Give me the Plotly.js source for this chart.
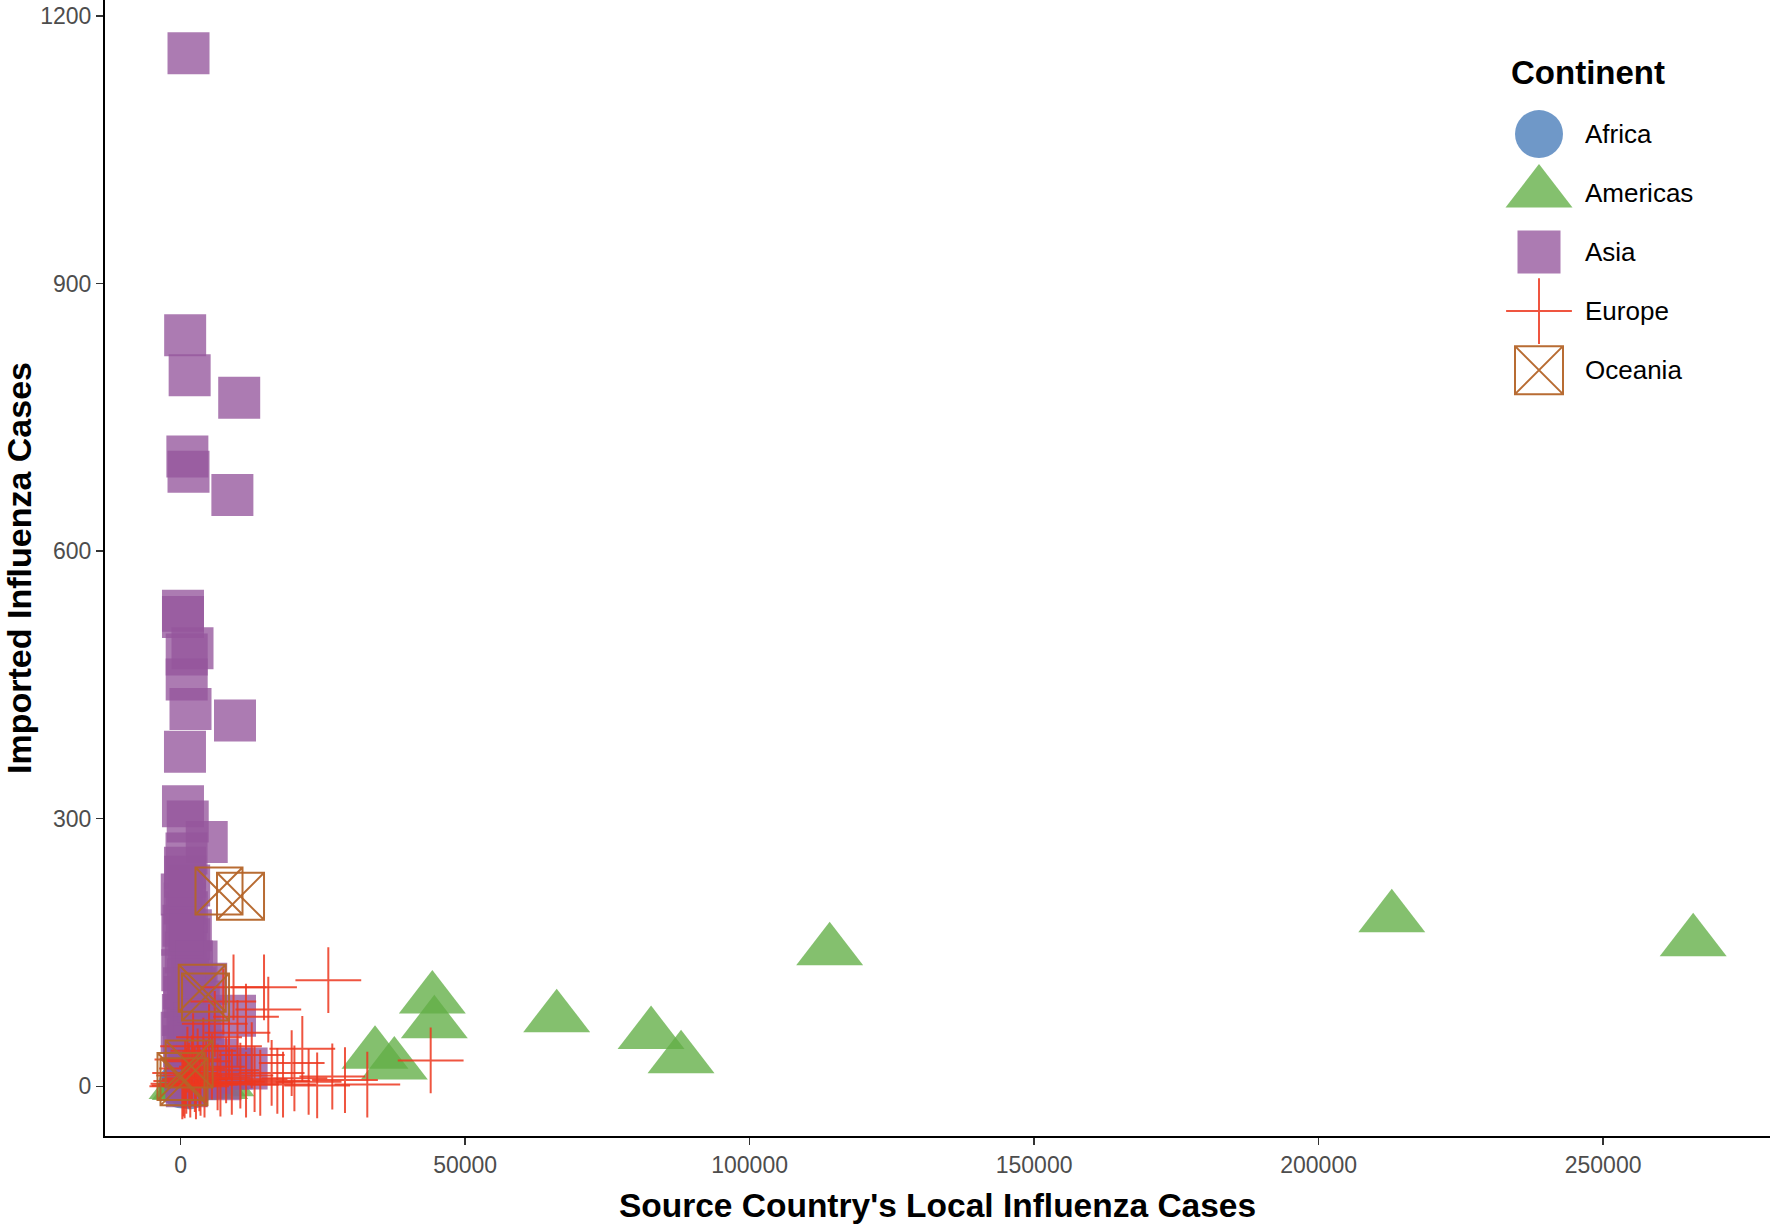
<!DOCTYPE html>
<html><head><meta charset="utf-8">
<script src="https://cdn.plot.ly/plotly-3.0.1.min.js"></script>
<style>html,body{margin:0;padding:0;background:#fff}#chart{width:1770px;height:1225px}</style>
</head><body><div id="chart"></div>
<script>
// ---- data ----
const continents = ["Africa", "Americas", "Asia", "Europe", "Oceania"];

const africaX = [300, 900, 1600, 2400];
const africaY = [2, 5, 1, 8];

const americasX = [265830, 212860, 114070, 66100, 82680, 87950, 44240, 44590, 34170, 37560,
                   250, 1500, 3000, 4500, 6000, 7100, 2000, 800, 5500, 3500];
const americasY = [162, 189, 152, 77, 58, 31, 98, 70, 36, 24,
                   2, 4, 3, 6, 2, 5, 10, 1, 12, 20];

const asiaX = [1390, 800, 1590, 10300, 1190, 1390, 9100, 420, 420, 2090,
               1070, 1070, 1740, 9560, 770, 420, 1250, 4590, 1040, 770,
               720, 1100, 500, 1500, 900, 2000, 300, 1300, 2500, 700,
               1800, 400, 3500, 1200, 2200, 600, 4000, 1600, 3000, 800,
               5000, 2000, 6500, 1000, 9000, 11600, 9560,
               200, 1500, 800, 300, 1800, 600, 2500, 1500, 3200, 200,
               2800, 4500, 3800, 7000, 1100];
const asiaY = [1158, 842, 797, 772, 706, 689, 663, 533, 526, 491,
               484, 456, 423, 410, 375, 314, 297, 274, 261, 245,
               205, 195, 180, 165, 150, 140, 130, 120, 110, 100,
               90, 80, 75, 65, 55, 45, 40, 30, 25, 18,
               15, 10, 30, 5, 20, 20, 79,
               215, 225, 235, 170, 175, 110, 70, 50, 95, 60,
               140, 115, 10, 8, 0];

const europeX = [25960, 14660, 15410, 11490, 9300, 7500, 21390, 19520, 26660, 28890,
                 32810, 43950, 10000, 8500, 12500, 6000, 5000, 4000, 3000, 2000,
                 1500, 1000, 500, 300, 800, 2500, 3500, 4500, 5500, 6500,
                 7000, 8000, 9000, 10500, 11500, 13000, 14000, 16000, 17000, 18000,
                 20000, 22500, 24000, 1200, 2200, 700, 1700, 2700, 3300, 4200];
const europeY = [119, 111, 86, 78, 111, 95, 42, 26, 11, 7,
                 2, 29, 60, 45, 35, 70, 55, 40, 28, 20,
                 12, 6, 3, 0, 15, 8, 4, 14, 22, 10,
                 3, 18, 5, 12, 2, 8, 4, 15, 6, 2,
                 9, 5, 1, 30, 45, 1, 2, 0, 9, 2];

const oceaniaX = [6750, 10530, 4380, 3800, 70, 600, 1500];
const oceaniaY = [219, 213, 100, 110, 11, 5, 25];

const xTickVals = [0, 50000, 100000, 150000, 200000, 250000];
const yTickVals = [0, 300, 600, 900, 1200];

// ---- styles ----
const FONT = "Liberation Sans, Arial, Helvetica, sans-serif";
const styles = {
  Africa:   {symbol: "circle",          size: 48, color: "rgb(70,123,185)", opacity: 0.78, lw: 0},
  Americas: {symbol: "triangle-up",     size: 58, color: "rgb(97,174,69)",  opacity: 0.78, lw: 0},
  Asia:     {symbol: "square",          size: 42, color: "rgb(149,86,156)", opacity: 0.78, lw: 0},
  Europe:   {symbol: "cross-thin-open", size: 47, color: "rgb(236,55,30)",  opacity: 0.85, lw: 2},
  Oceania:  {symbol: "square-x-open",   size: 47, color: "rgb(180,100,40)", opacity: 0.95, lw: 2}
};
const dataX = {Africa: africaX, Americas: americasX, Asia: asiaX, Europe: europeX, Oceania: oceaniaX};
const dataY = {Africa: africaY, Americas: americasY, Asia: asiaY, Europe: europeY, Oceania: oceaniaY};

function mk(st, size) {
  return {symbol: st.symbol, size: size, color: st.color, opacity: st.opacity,
          line: {width: st.lw, color: st.color}};
}

const traces = continents.map(c => ({
  type: "scatter", mode: "markers", name: c,
  x: dataX[c], y: dataY[c],
  marker: mk(styles[c], styles[c].size),
  showlegend: false, hoverinfo: "x+y+name"
}));

// ---- custom legend on an overlay axis measured in pixels of the plot area ----
const plotW = 1665, plotH = 1135.6;
const legKeyX = 1434, legLabelX = 1478, legTop = 134, legStep = 59;
const legendSizes = {Africa: 48, Americas: 58, Asia: 43, Europe: 47, Oceania: 48};
continents.forEach((c, i) => {
  traces.push({
    type: "scatter", mode: "markers", name: c,
    x: [legKeyX], y: [legTop + i * legStep], xaxis: "x2", yaxis: "y2",
    marker: mk(styles[c], legendSizes[c]), showlegend: false, hoverinfo: "skip"
  });
});

const annotations = continents.map((c, i) => ({
  xref: "x2", yref: "y2", x: legLabelX, y: legTop + i * legStep,
  text: c, showarrow: false, xanchor: "left", yanchor: "middle",
  font: {family: FONT, size: 26, color: "#000"}
}));
annotations.push({
  xref: "x2", yref: "y2", x: 1404, y: 72, text: "<b>Continent</b>", showarrow: false,
  xanchor: "left", yanchor: "middle", font: {family: FONT, size: 33, color: "#000"}
});

const layout = {
  width: 1770, height: 1225,
  margin: {l: 105, r: 0, t: 0, b: 89.4, pad: 0},
  paper_bgcolor: "#fff", plot_bgcolor: "#fff",
  showlegend: false,
  font: {family: FONT},
  xaxis: {
    range: [-13287, 279330], tickvals: xTickVals, ticktext: xTickVals.map(String),
    showgrid: false, zeroline: false, showline: true, linecolor: "#000", linewidth: 2,
    ticks: "outside", ticklen: 7, tickwidth: 1.5, tickcolor: "#333",
    tickfont: {family: FONT, size: 23, color: "#4d4d4d"},
    title: {text: "<b>Source Country's Local Influenza Cases</b>", standoff: 17,
            font: {family: FONT, size: 33.5, color: "#000"}},
    automargin: false
  },
  yaxis: {
    range: [-55.7, 1217.8], tickvals: yTickVals, ticktext: yTickVals.map(String),
    showgrid: false, zeroline: false, showline: true, linecolor: "#000", linewidth: 2,
    ticks: "outside", ticklen: 7, tickwidth: 1.5, tickcolor: "#333",
    tickfont: {family: FONT, size: 23, color: "#4d4d4d"},
    title: {text: "<b>Imported Influenza Cases</b>", standoff: 10,
            font: {family: FONT, size: 34, color: "#000"}},
    automargin: false
  },
  xaxis2: {range: [0, plotW], overlaying: "x", anchor: "y2", visible: false, fixedrange: true},
  yaxis2: {range: [plotH, 0], overlaying: "y", anchor: "x2", visible: false, fixedrange: true},
  annotations: annotations
};

Plotly.newPlot("chart", traces, layout, {displayModeBar: false, staticPlot: true});
</script>
</body></html>
